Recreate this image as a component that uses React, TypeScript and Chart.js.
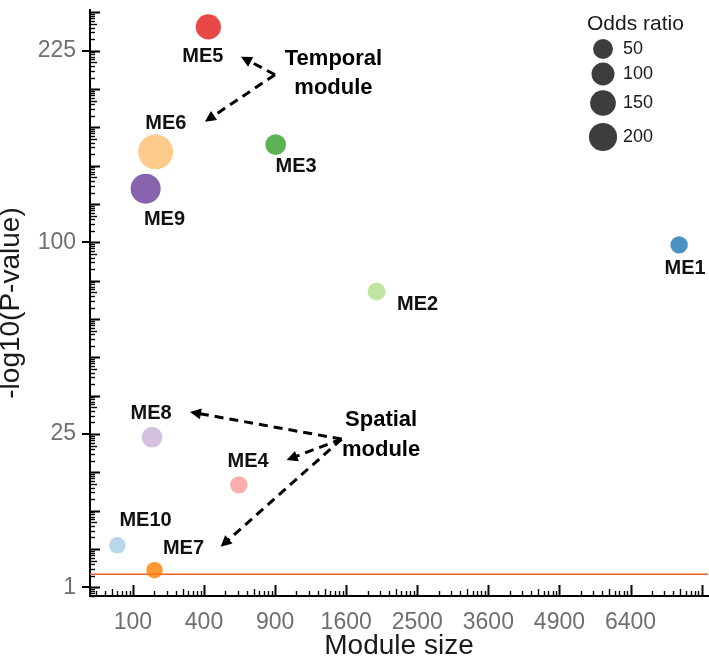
import { useEffect, useRef } from "react";
import { Chart, registerables } from "chart.js";

Chart.register(...registerables);

// ---------------- data ----------------
const modules = ["ME1", "ME2", "ME3", "ME4", "ME5", "ME6", "ME7", "ME8", "ME9", "ME10"];
const moduleSize = [7540, 1960, 905, 620, 425, 174, 170, 161, 139, 61];
const negLog10P = [98.7, 76, 157.5, 13.5, 244, 152.8, 2.1, 24.2, 130, 4.4];
const oddsRatio = [15, 22, 62, 15, 140, 364, 3, 62, 241, 5];
const moduleColors = ["#1F78B4", "#B2DF8A", "#33A02C", "#FB9A99", "#E31A1C", "#FDBF6F", "#FF7F00", "#CAB2D6", "#6A3D9A", "#A6CEE3"];

const xTickValues = [100, 400, 900, 1600, 2500, 3600, 4900, 6400];
const yTickValues = [1, 25, 100, 225];
const xLimits = [15.7, 8263];
const yLimits = [0.6, 258];
const thresholdY = 1.8;
const legendOdds = [50, 100, 150, 200];

// annotation groups: text lines, arrow vertex and arrow tips (data units)
const temporalLines = ["Temporal", "module"];
const temporalVertex = { x: 899, y: 206.6 };
const temporalTips = [
  { x: 635, y: 220.4 },
  { x: 405, y: 172.9 },
];
const spatialLines = ["Spatial", "module"];
const spatialVertex = { x: 1549, y: 23.7 };
const spatialTips = [
  { x: 325, y: 31.1 },
  { x: 1000, y: 18.7 },
  { x: 499, y: 4.24 },
];

// ---------------- styling / layout ----------------
const FONT = '"Liberation Sans", Arial, Helvetica, sans-serif';
const labelOffsets = [
  [6, 23.5], [41, 12.5], [20.5, 21.7], [9.3, -23.3], [-5.5, 29.2],
  [10.3, -28.8], [29, -21.7], [-1, -23.7], [18.8, 31], [28.2, -25],
];
const temporalTextOffset = { dx: 58.5, dy: -16, lineGap: 29 };
const spatialTextOffset = { dx: 39.5, dy: -19, lineGap: 30 };
const legendLayout = { titleX: 587, titleY: 24, circleX: 603, textX: 623, rowY: [49, 74, 103, 137] };

function radiusFor(or: number) {
  return Math.sqrt(66 + 0.66 * or);
}
function withAlpha(hex: string, a: number) {
  const n = parseInt(hex.slice(1), 16);
  return `rgba(${(n >> 16) & 255},${(n >> 8) & 255},${n & 255},${a})`;
}

function drawArrow(ctx: CanvasRenderingContext2D, x1: number, y1: number, x2: number, y2: number) {
  const ang = Math.atan2(y2 - y1, x2 - x1);
  const head = 11;
  const hw = 5.5;
  const ex = x2 - Math.cos(ang) * head * 0.8;
  const ey = y2 - Math.sin(ang) * head * 0.8;
  ctx.save();
  ctx.strokeStyle = "#000";
  ctx.lineWidth = 3;
  ctx.setLineDash([9, 6]);
  ctx.beginPath();
  ctx.moveTo(x1, y1);
  ctx.lineTo(ex, ey);
  ctx.stroke();
  ctx.setLineDash([]);
  ctx.fillStyle = "#000";
  ctx.beginPath();
  ctx.moveTo(x2, y2);
  ctx.lineTo(x2 - Math.cos(ang) * head + Math.sin(ang) * hw, y2 - Math.sin(ang) * head - Math.cos(ang) * hw);
  ctx.lineTo(x2 - Math.cos(ang) * head - Math.sin(ang) * hw, y2 - Math.sin(ang) * head + Math.cos(ang) * hw);
  ctx.closePath();
  ctx.fill();
  ctx.restore();
}

export default function App() {
  const ref = useRef<HTMLCanvasElement>(null);

  useEffect(() => {
    const canvas = ref.current;
    if (!canvas) return;
    const sq = Math.sqrt;
    const bubbleData = modules.map((_, i) => ({
      x: sq(moduleSize[i]),
      y: sq(negLog10P[i]),
      r: radiusFor(oddsRatio[i]),
    }));

    const overlay = {
      id: "overlay",
      afterDraw(chart: any) {
        const ctx: CanvasRenderingContext2D = chart.ctx;
        const xs = chart.scales.x;
        const ys = chart.scales.y;
        const area = chart.chartArea;
        const px = (v: number) => xs.getPixelForValue(sq(v));
        const py = (v: number) => ys.getPixelForValue(sq(v));

        // minor / inner ticks
        ctx.save();
        ctx.strokeStyle = "#000";
        const yMin = ys.min, yMax = ys.max;
        for (let n = Math.floor(yMin); n <= Math.ceil(yMax); n++) {
          for (let k = 1; k <= 9; k++) {
            const v = n + Math.log10(k);
            if (v < yMin || v > yMax) continue;
            const len = k === 1 ? 10 : k === 5 ? 7 : 5;
            ctx.lineWidth = k === 1 ? 2 : 1.4;
            const y = Math.round(ys.getPixelForValue(v)) + 0.5;
            ctx.beginPath();
            ctx.moveTo(area.left, y);
            ctx.lineTo(area.left + len, y);
            ctx.stroke();
          }
        }
        const xMin = xs.min, xMax = xs.max;
        for (let n = 0; n <= Math.ceil(xMax / 10) * 10; n += 10) {
          for (let k = 1; k <= 9; k++) {
            const v = n + 10 * Math.log10(k);
            if (v < xMin || v > xMax) continue;
            const len = k === 1 ? 11 : k === 5 ? 7 : 5;
            ctx.lineWidth = k === 1 ? 2 : 1.4;
            const x = Math.round(xs.getPixelForValue(v)) + 0.5;
            ctx.beginPath();
            ctx.moveTo(x, area.bottom);
            ctx.lineTo(x, area.bottom - len);
            ctx.stroke();
          }
        }
        ctx.restore();

        // point labels
        ctx.save();
        ctx.font = `bold 20px ${FONT}`;
        ctx.fillStyle = "#111";
        ctx.textAlign = "center";
        ctx.textBaseline = "middle";
        modules.forEach((m, i) => {
          ctx.fillText(m, px(moduleSize[i]) + labelOffsets[i][0], py(negLog10P[i]) + labelOffsets[i][1]);
        });
        ctx.restore();

        // arrows
        const vT = { x: px(temporalVertex.x), y: py(temporalVertex.y) };
        temporalTips.forEach((t) => drawArrow(ctx, vT.x, vT.y, px(t.x), py(t.y)));
        const vS = { x: px(spatialVertex.x), y: py(spatialVertex.y) };
        spatialTips.forEach((t) => drawArrow(ctx, vS.x, vS.y, px(t.x), py(t.y)));

        // annotation text
        ctx.save();
        ctx.font = `bold 22px ${FONT}`;
        ctx.fillStyle = "#000";
        ctx.textAlign = "center";
        ctx.textBaseline = "middle";
        temporalLines.forEach((s, i) =>
          ctx.fillText(s, vT.x + temporalTextOffset.dx, vT.y + temporalTextOffset.dy + i * temporalTextOffset.lineGap)
        );
        spatialLines.forEach((s, i) =>
          ctx.fillText(s, vS.x + spatialTextOffset.dx, vS.y + spatialTextOffset.dy + i * spatialTextOffset.lineGap)
        );
        ctx.restore();

        // size legend
        ctx.save();
        ctx.textAlign = "left";
        ctx.textBaseline = "middle";
        ctx.fillStyle = "#1a1a1a";
        ctx.font = `21px ${FONT}`;
        ctx.fillText("Odds ratio", legendLayout.titleX, legendLayout.titleY);
        legendOdds.forEach((v, i) => {
          const y = legendLayout.rowY[i];
          ctx.beginPath();
          ctx.arc(legendLayout.circleX, y, radiusFor(v), 0, Math.PI * 2);
          ctx.fillStyle = "#3d3d3d";
          ctx.fill();
          ctx.fillStyle = "#1a1a1a";
          ctx.font = `18px ${FONT}`;
          ctx.fillText(String(v), legendLayout.textX, y);
        });
        ctx.restore();
      },
    };

    const chart = new Chart(canvas, {
      type: "bubble",
      data: {
        datasets: [
          {
            type: "line",
            data: [
              { x: sq(xLimits[0]), y: sq(thresholdY) },
              { x: sq(xLimits[1]), y: sq(thresholdY) },
            ],
            borderColor: "#ef5d33",
            borderWidth: 1.6,
            pointRadius: 0,
            fill: false,
            order: 2,
          } as any,
          {
            type: "bubble",
            data: bubbleData,
            backgroundColor: moduleColors.map((c) => withAlpha(c, 0.8)),
            borderWidth: 0,
            clip: false,
            order: 1,
          } as any,
        ],
      },
      options: {
        animation: false,
        responsive: false,
        events: [],
        layout: { autoPadding: false, padding: { top: 10, right: 1, left: 0, bottom: 0 } },
        plugins: { legend: { display: false }, tooltip: { enabled: false } },
        scales: {
          x: {
            type: "linear",
            min: sq(xLimits[0]),
            max: sq(xLimits[1]),
            afterBuildTicks: (s: any) => {
              s.ticks = xTickValues.map((v) => ({ value: sq(v) }));
            },
            afterFit: (s: any) => {
              s.height = 67;
              s.paddingLeft = 0;
              s.paddingRight = 0;
            },
            grid: { display: false },
            border: { display: true, color: "#000", width: 2 },
            ticks: {
              color: "#6f6f6f",
              font: { family: FONT, size: 23 },
              padding: 5,
              maxRotation: 0,
              autoSkip: false,
              callback: (_v: any, i: number) => String(xTickValues[i]),
            },
            title: {
              display: true,
              text: "Module size",
              color: "#1a1a1a",
              font: { family: FONT, size: 28 },
              padding: { top: 0, bottom: 0 },
            },
          },
          y: {
            type: "linear",
            min: sq(yLimits[0]),
            max: sq(yLimits[1]),
            afterBuildTicks: (s: any) => {
              s.ticks = yTickValues.map((v) => ({ value: sq(v) }));
            },
            afterFit: (s: any) => {
              s.width = 90;
              s.paddingTop = 0;
              s.paddingBottom = 0;
            },
            grid: { display: true, drawOnChartArea: false, drawTicks: true, tickLength: 8, color: "#000", lineWidth: 2 },
            border: { display: true, color: "#000", width: 2 },
            ticks: {
              color: "#6f6f6f",
              font: { family: FONT, size: 23 },
              padding: 6,
              autoSkip: false,
              callback: (_v: any, i: number) => String(yTickValues[i]),
            },
            title: {
              display: true,
              text: "-log10(P-value)",
              color: "#1a1a1a",
              font: { family: FONT, size: 28, lineHeight: 0.8 },
              padding: { top: 0, bottom: 0 },
            },
          },
        },
      },
      plugins: [overlay],
    } as any);

    return () => chart.destroy();
  }, []);

  return (
    <div style={{ position: "absolute", left: 0, top: 0, width: 709, height: 663, background: "#fff" }}>
      <canvas ref={ref} width={709} height={663} style={{ display: "block" }} />
    </div>
  );
}
